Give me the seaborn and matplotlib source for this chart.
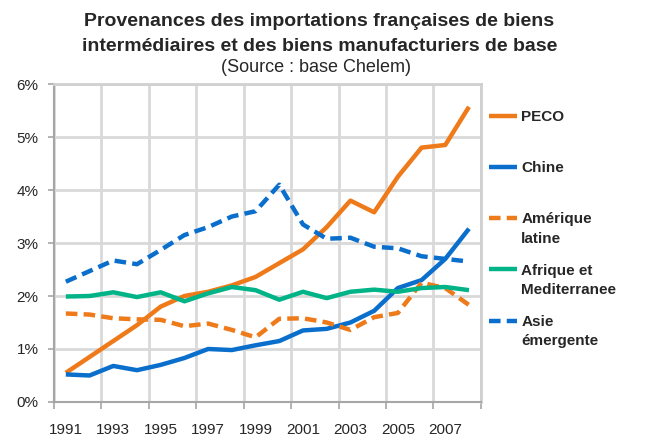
"""Provenances des importations françaises de biens intermédiaires."""

import matplotlib
matplotlib.use("Agg")
import matplotlib.pyplot as plt
import matplotlib.ticker as mticker
import seaborn as sns
import pandas as pd

# Data (share of French imports, %)
years = list(range(1991, 2009))
peco = [0.55, 0.85, 1.15, 1.45, 1.8, 2.0, 2.08, 2.2, 2.36, 2.62, 2.88, 3.3, 3.8, 3.58,
        4.25, 4.8, 4.85, 5.57]
chine = [0.52, 0.5, 0.68, 0.6, 0.7, 0.83, 1.0, 0.98, 1.07, 1.15, 1.35, 1.38, 1.5, 1.72,
         2.15, 2.3, 2.7, 3.27]
amerique_latine = [1.67, 1.65, 1.58, 1.56, 1.55, 1.43, 1.48, 1.36, 1.22, 1.57, 1.58, 1.5,
                   1.36, 1.6, 1.68, 2.25, 2.15, 1.83]
afrique_med = [1.99, 2.0, 2.07, 1.98, 2.07, 1.9, 2.05, 2.17, 2.11, 1.93, 2.08, 1.96, 2.08,
               2.12, 2.08, 2.15, 2.17, 2.11]
asie_emergente = [2.27, 2.47, 2.67, 2.6, 2.87, 3.15, 3.3, 3.5, 3.6, 4.1, 3.35, 3.08, 3.1,
                  2.93, 2.9, 2.75, 2.7, 2.65]

# legend labels: first line (next to the handle) and optional second line
labels = ["PECO", "Chine", "Amérique", "Afrique et", "Asie"]
labels_line2 = ["", "", "latine", "Mediterranee", "émergente"]
series = [peco, chine, amerique_latine, afrique_med, asie_emergente]
colors = ["#EE7A1A", "#0A6FCC", "#EE7A1A", "#00B487", "#0A6FCC"]
dashed = [False, False, True, False, True]

sns.set_style("white")
plt.rcParams['font.family'] = ['Liberation Sans', 'DejaVu Sans']

fig = plt.figure(figsize=(6.56, 4.40), dpi=100)
ax = fig.add_axes([0.0823, 0.0864, 0.6507, 0.7226])

for label, values, color, dash in zip(labels, series, colors, dashed):
    df = pd.DataFrame({"year": years, "value": values})
    sns.lineplot(data=df, x="year", y="value", ax=ax, color=color,
                 linewidth=3.2, label=label, legend=False,
                 solid_capstyle='butt')
    if dash:
        ax.lines[-1].set_dashes([2.6, 1.4])

ax.set_xlim(1990.5, 2008.5)
ax.set_ylim(0, 6)

# category axis: gridlines between years, labels on odd years
ax.set_xticks([1990.5 + 2 * i for i in range(10)])
ax.set_xticklabels([])
ax.set_xticks([y for y in years if y % 2 == 1], minor=True)
ax.set_xticklabels([str(y) for y in years if y % 2 == 1], minor=True, fontsize=11)
ax.tick_params(axis='x', which='minor', length=0, pad=15)
ax.tick_params(axis='x', which='major', length=5, width=1.2, color='#A6A6A6',
               direction='out', bottom=True)

ax.set_yticks(range(0, 7))
ax.yaxis.set_major_formatter(mticker.FuncFormatter(lambda v, p: f"{v:.0f}%"))
ax.tick_params(axis='y', length=4, width=1.2, color='#A6A6A6', labelsize=11,
               direction='out', left=True, pad=7)

ax.grid(True, which='major', color='#D9D9D9', linewidth=2)
ax.set_axisbelow(True)
for side in ['top', 'right']:
    ax.spines[side].set_color('#D0D0D0')
    ax.spines[side].set_linewidth(2)
for side in ['left', 'bottom']:
    ax.spines[side].set_color('#A6A6A6')
    ax.spines[side].set_linewidth(1.5)
ax.set_xlabel('')
ax.set_ylabel('')

handles = ax.lines[:5]
leg = ax.legend(handles, labels, loc='center left', bbox_to_anchor=(1.019, 0.574),
                frameon=False, prop={'size': 11, 'weight': 'bold'},
                handlelength=1.85, handletextpad=0.26, labelspacing=2.44,
                borderpad=0, borderaxespad=0)
fig.canvas.draw()

# second line of the two-line legend labels, hung below the first line
for text, line2 in zip(leg.get_texts(), labels_line2):
    if line2:
        ax.annotate(line2, xy=(0, 0.5), xycoords=text, xytext=(0, -13.7),
                    textcoords='offset points', ha='left', va='center',
                    fontsize=11, fontweight='bold', annotation_clip=False,
                    zorder=6)

fig.text(0.487, 0.952, "Provenances des importations françaises de biens",
         ha='center', va='center', fontsize=14, fontweight='bold')
fig.text(0.487, 0.895, "intermédiaires et des biens manufacturiers de base",
         ha='center', va='center', fontsize=14, fontweight='bold')
fig.text(0.482, 0.846, "(Source : base Chelem)", ha='center', va='center',
         fontsize=13)

plt.savefig('out.png', dpi=100)
plt.close()
